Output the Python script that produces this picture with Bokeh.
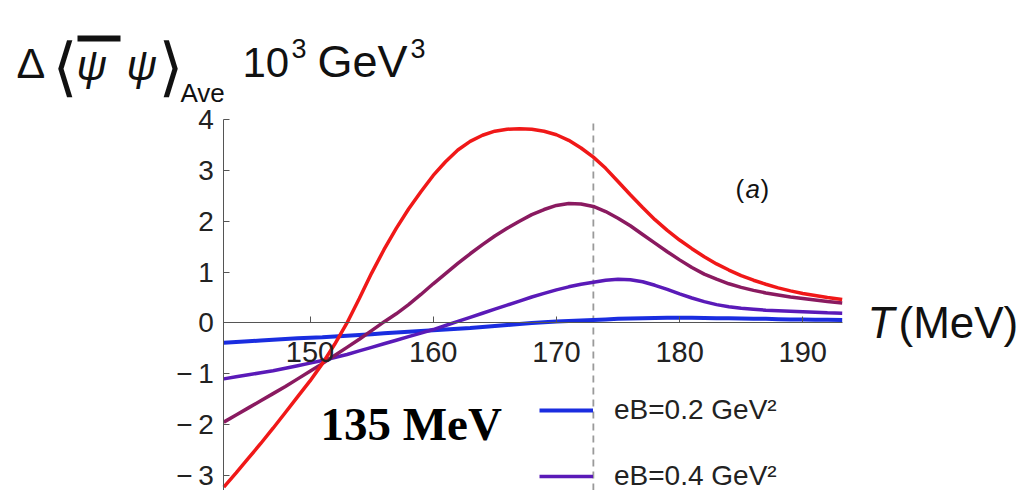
from bokeh.plotting import figure
from bokeh.models import Range1d, Label, Legend, LegendItem, FixedTicker, BoxAnnotation
from bokeh.embed import file_html
from bokeh.resources import INLINE

T = [143, 144, 145, 146, 147, 148, 149, 150, 151, 152, 153, 154, 155, 156, 157, 158,
     159, 160, 161, 162, 163, 164, 165, 166, 167, 168, 169, 170, 171, 172, 173, 174,
     175, 176, 177, 178, 179, 180, 181, 182, 183, 184, 185, 186, 187, 188, 189, 190,
     191, 192, 193.2]
eb02 = [-0.39, -0.375, -0.36, -0.345, -0.33, -0.315, -0.30, -0.29, -0.28, -0.265,
        -0.25, -0.235, -0.22, -0.205, -0.19, -0.175, -0.16, -0.145, -0.13, -0.115,
        -0.10, -0.08, -0.06, -0.04, -0.02, 0.0, 0.015, 0.03, 0.04, 0.05, 0.06, 0.07,
        0.08, 0.085, 0.09, 0.095, 0.10, 0.10, 0.10, 0.095, 0.09, 0.09, 0.085, 0.08,
        0.08, 0.075, 0.07, 0.07, 0.065, 0.065, 0.06]
eb04 = [-1.10, -1.06, -1.02, -0.98, -0.94, -0.89, -0.84, -0.79, -0.74, -0.68, -0.62,
        -0.55, -0.48, -0.41, -0.34, -0.27, -0.20, -0.13, -0.05, 0.03, 0.11, 0.19,
        0.27, 0.35, 0.43, 0.51, 0.58, 0.65, 0.71, 0.76, 0.80, 0.84, 0.86, 0.85, 0.81,
        0.74, 0.66, 0.57, 0.49, 0.42, 0.36, 0.32, 0.29, 0.27, 0.25, 0.24, 0.23, 0.22,
        0.21, 0.20, 0.19]
eb06 = [-1.95, -1.81, -1.67, -1.53, -1.39, -1.25, -1.10, -0.95, -0.80, -0.64, -0.48,
        -0.32, -0.15, 0.02, 0.18, 0.36, 0.56, 0.77, 0.97, 1.17, 1.36, 1.54, 1.71,
        1.86, 2.00, 2.13, 2.23, 2.31, 2.35, 2.34, 2.29, 2.19, 2.06, 1.91, 1.74, 1.57,
        1.40, 1.24, 1.09, 0.96, 0.86, 0.77, 0.70, 0.64, 0.59, 0.55, 0.51, 0.48, 0.45,
        0.42, 0.39]
eb08 = [-3.23, -2.95, -2.66, -2.37, -2.07, -1.76, -1.45, -1.14, -0.80, -0.42, 0.00,
        0.48, 0.98, 1.44, 1.86, 2.24, 2.58, 2.90, 3.17, 3.40, 3.57, 3.69, 3.77, 3.81,
        3.82, 3.81, 3.77, 3.70, 3.59, 3.44, 3.26, 3.04, 2.78, 2.52, 2.27, 2.03, 1.82,
        1.63, 1.46, 1.30, 1.16, 1.04, 0.93, 0.84, 0.76, 0.69, 0.63, 0.58, 0.54, 0.50,
        0.46]
labels = ["eB=0.2 GeV²", "eB=0.4 GeV²", "eB=0.6 GeV²", "eB=0.8 GeV²"]
colors = ["#1a2de0", "#5a1ab8", "#8a1a60", "#f01818"]
widths = [4, 3.5, 3.5, 3.5]
x_ticks = [150, 160, 170, 180, 190]
y_ticks = [-3, -2, -1, 0, 1, 2, 3, 4]
T_c = 173

W, H = 1024, 490
# the frame fills the whole canvas; ranges are set so the axes cross where they should
px_per_T = 618.4 / (193.2 - 143)
px_per_y = 50.86
x_lo = 143 - 223.3 / px_per_T
x_hi = x_lo + W / px_per_T
y_hi = 4 + 119 / px_per_y
y_lo = y_hi - H / px_per_y

p = figure(width=W, height=H, output_backend="svg", toolbar_location=None,
           x_range=Range1d(x_lo, x_hi), y_range=Range1d(y_lo, y_hi),
           min_border=0, min_border_left=0, min_border_right=0, min_border_top=0,
           min_border_bottom=0, outline_line_color=None)
p.grid.visible = False

p.segment(x0=[T_c], y0=[y_lo], x1=[T_c], y1=[4], line_color="#9a9a9a",
          line_dash="7 5", line_width=1.8)

rs = []
for ys, col, lw in zip([eb02, eb04, eb06, eb08], colors, widths):
    rs.append(p.line(T, ys, line_color=col, line_width=lw))

xa = p.xaxis[0]
xa.fixed_location = 0
xa.bounds = (143, 193.2)
xa.ticker = FixedTicker(ticks=x_ticks)
xa.major_tick_in = 6
xa.major_tick_out = 0
xa.minor_tick_line_color = None
xa.axis_line_color = "#555555"
xa.major_tick_line_color = "#555555"
xa.major_label_text_font = "Liberation Sans"
xa.major_label_text_font_size = "29px"
xa.major_label_text_color = "#222222"
xa.major_label_standoff = 19

ya = p.yaxis[0]
ya.fixed_location = 143
ya.bounds = (y_lo, 4)
ya.ticker = FixedTicker(ticks=y_ticks)
ya.major_tick_in = 6
ya.major_tick_out = 0
ya.minor_tick_line_color = None
ya.axis_line_color = "#555555"
ya.major_tick_line_color = "#555555"
ya.major_label_text_font = "Liberation Sans"
ya.major_label_text_font_size = "28px"
ya.major_label_text_color = "#222222"
ya.major_label_standoff = 10
ya.major_label_overrides = {t: ("\u2212\u2009" + str(-t) if t < 0 else str(t)) for t in y_ticks}

legend = Legend(items=[LegendItem(label=labels[0], renderers=[rs[0]]),
                       LegendItem(label=labels[1], renderers=[rs[1]])],
                location=(539, -2), orientation="vertical",
                background_fill_alpha=0, border_line_color=None,
                label_text_font="Liberation Sans", label_text_font_size="28px",
                label_text_color="#222222", glyph_width=54, glyph_height=30,
                label_standoff=21, spacing=34, padding=0, margin=0)
p.add_layout(legend, "center")


def sx(page_x):
    return page_x


def sy(page_y):
    return H - page_y


def lab(x, base, t, size, style="normal", font="Liberation Sans", color="#111111",
        mid=None):
    f = float(size.replace("px", ""))
    m = mid if mid is not None else base - 0.35 * f
    p.add_layout(Label(x=sx(x), y=sy(m), x_units="screen", y_units="screen", text=t,
                       text_font=font, text_font_size=size, text_font_style=style,
                       text_color=color, text_baseline="middle"))


# y-axis title
lab(16, 78, "Δ", "43px")
lab(52, 0, "⟨", "64px", font="DejaVu Sans", mid=66)
lab(76, 80, "ψ", "42px", style="italic")
p.add_layout(BoxAnnotation(left=sx(77), right=sx(120), top=sy(35), bottom=sy(41),
                           left_units="screen", right_units="screen",
                           top_units="screen", bottom_units="screen",
                           fill_color="#111111", fill_alpha=1, line_color=None))
lab(126, 80, "ψ", "42px", style="italic")
lab(158, 0, "⟩", "64px", font="DejaVu Sans", mid=66)
lab(180, 102, "Ave", "26px")
lab(242, 77, "10", "42px")
lab(291, 57, "3", "27px")
lab(317, 77, "GeV", "45px")
lab(410, 57, "3", "27px")

# x-axis title
lab(867, 337, "T", "44px", style="italic")
lab(898, 337, "(MeV)", "44px")

# panel tag
lab(735, 198, "(", "26px")
lab(745, 198, "a", "26px", style="italic")
lab(760, 198, ")", "26px")

# annotation
lab(320, 440, "135 MeV", "47px", style="bold", font="Liberation Serif", color="#000000")

open("out.html", "w").write(file_html(p, INLINE))
